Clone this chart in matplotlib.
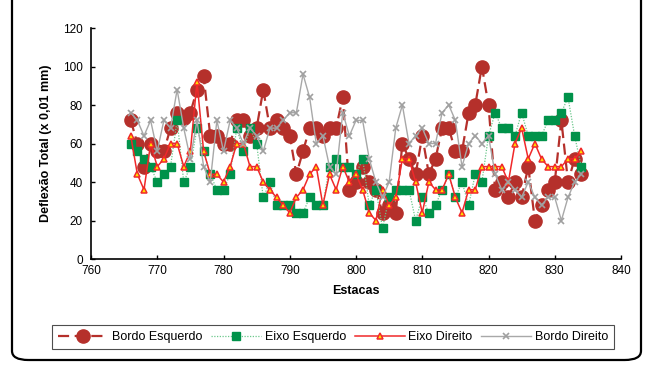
import matplotlib
matplotlib.use("Agg")
import matplotlib.pyplot as plt
from matplotlib.patches import FancyBboxPatch
import numpy as np

plt.rcParams['font.family'] = ['Liberation Sans', 'DejaVu Sans']

estacas = list(range(766, 835))

bordo_esquerdo = [72, 60, 48, 60, 56, 56, 68, 76, 73, 76, 88, 95, 64, 64, 60, 60, 72, 72,
                  64, 68, 88, 68, 72, 68, 64, 44, 56, 68, 68, 64, 68, 68, 84, 36, 40, 48,
                  40, 36, 24, 28, 24, 60, 52, 44, 64, 44, 52, 68, 68, 56, 56, 76, 80, 100,
                  80, 36, 40, 32, 40, 32, 48, 20, 28, 36, 40, 72, 40, 52, 44]

eixo_esquerdo = [60, 56, 52, 48, 40, 44, 48, 72, 40, 48, 68, 56, 44, 36, 36, 44, 68, 56,
                 68, 60, 32, 40, 28, 28, 28, 24, 24, 32, 28, 28, 48, 52, 48, 48, 44, 52,
                 28, 36, 16, 32, 36, 36, 36, 20, 32, 24, 28, 36, 44, 32, 40, 28, 44, 40,
                 64, 76, 68, 68, 64, 76, 64, 64, 64, 72, 72, 76, 84, 64, 48]

eixo_direito = [64, 44, 36, 60, 48, 52, 60, 60, 48, 56, 92, 56, 44, 44, 40, 48, 60, 60,
                48, 48, 40, 36, 32, 28, 24, 32, 36, 44, 48, 28, 44, 36, 48, 40, 44, 36,
                24, 20, 36, 28, 32, 52, 52, 40, 24, 40, 36, 36, 44, 32, 24, 36, 36, 48,
                48, 48, 48, 40, 60, 68, 52, 60, 52, 48, 48, 48, 52, 52, 56]

bordo_direito = [76, 72, 64, 72, 56, 72, 68, 88, 68, 52, 72, 48, 40, 72, 56, 72, 68, 60,
                 68, 64, 56, 68, 68, 72, 76, 76, 96, 84, 60, 64, 48, 44, 76, 64, 72, 72,
                 52, 40, 32, 40, 68, 80, 60, 64, 68, 60, 60, 76, 80, 72, 48, 60, 64, 60,
                 64, 44, 36, 40, 36, 32, 40, 32, 28, 32, 32, 20, 32, 40, 44]

W, H = 652, 365
fig = plt.figure(figsize=(W / 100, H / 100), dpi=100)

# rounded outer frame (top edge runs off the canvas)
frame = FancyBboxPatch((12 / W, 5 / H), (641 - 12) / W, 1.2,
                       boxstyle="round,pad=0,rounding_size=0.025",
                       transform=fig.transFigure, fill=False,
                       edgecolor='black', linewidth=1.6, clip_on=False)
fig.patches.append(frame)

ax = fig.add_axes([91 / W, (H - 259) / H, (621 - 91) / W, (259 - 28) / H])

l1, = ax.plot(estacas, bordo_esquerdo, color='#B5302B', linestyle=(0, (5, 2.5)),
              linewidth=1.6, marker='o', markersize=9.5, markerfacecolor='#B5302B',
              markeredgecolor='#B5302B', label='Bordo Esquerdo')
l2, = ax.plot(estacas, eixo_esquerdo, color='#6CC88C', linestyle=(0, (1, 1.2)),
              linewidth=0.9, marker='s', markersize=6, markerfacecolor='#00924A',
              markeredgecolor='#00924A', label='Eixo Esquerdo')
l3, = ax.plot(estacas, eixo_direito, color='#F0282A', linestyle='-',
              linewidth=1.1, marker='^', markersize=5, markerfacecolor='#FFE000',
              markeredgecolor='#F0282A', markeredgewidth=1.1, label='Eixo Direito')
l4, = ax.plot(estacas, bordo_direito, color='#A8A8A8', linestyle='-',
              linewidth=1.0, marker='x', markersize=4, markeredgecolor='#A0A0A0',
              markeredgewidth=1.2, label='Bordo Direito')

ax.set_xlim(760, 840)
ax.set_ylim(0, 120)
ax.set_xticks(np.arange(760, 841, 10))
ax.set_yticks(np.arange(0, 121, 20))
for s in ('top', 'right'):
    ax.spines[s].set_visible(False)
for s in ('left', 'bottom'):
    ax.spines[s].set_linewidth(1.2)
ax.tick_params(axis='both', labelsize=8.5, direction='in', length=3, width=1)
ax.tick_params(axis='x', pad=4)
ax.tick_params(axis='y', pad=6)

ax.set_xlabel('Estacas', fontsize=9, fontweight='bold', labelpad=6)
ax.set_ylabel('Deflexão Total (x 0,01 mm)', fontsize=9, fontweight='bold', labelpad=8)

leg = fig.legend(handles=[l1, l2, l3, l4], loc='center',
                 bbox_to_anchor=(333 / W, (H - 337) / H), ncol=4, fontsize=9,
                 handlelength=4.0, handletextpad=0.3, columnspacing=0.7,
                 frameon=True, fancybox=False, borderpad=0.45, borderaxespad=0)
leg.get_frame().set_edgecolor('#222222')
leg.get_frame().set_linewidth(0.8)

fig.savefig('out.png', dpi=100)
